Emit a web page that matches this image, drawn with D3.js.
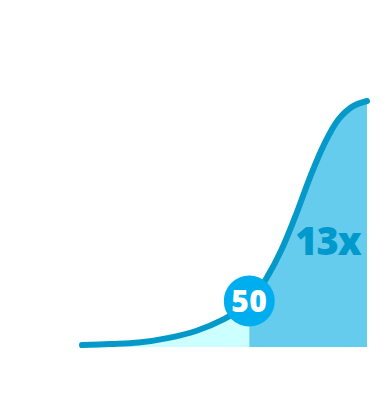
<!DOCTYPE html>
<html><head><meta charset="utf-8">
<script src="https://cdn.jsdelivr.net/npm/d3@7"></script>
<style>html,body{margin:0;padding:0;background:#fff;}svg{display:block;}</style>
</head><body>
<script>
const xValues = [0, 10, 20, 30, 40, 50, 55, 60, 65, 70, 75, 80, 85, 90, 95, 100];
const yValues = [0.8, 1.2, 1.8, 3.6, 6.5, 11.4, 15.0, 20.0, 28.5, 39.5, 53.5, 69.0, 82.5, 92.5, 97.8, 100];
const splitX = 58.7;
const splitLabel = "50";
const multipleLabel = "13x";

const W = 391, H = 400;
const svg = d3.select("body").append("svg").attr("width", W).attr("height", H);
const x = d3.scaleLinear().domain([0, 100]).range([82, 367]);
const y = d3.scaleLinear().domain([0, 100]).range([347, 101]);

const data = xValues.map((v, i) => ({x: v, y: yValues[i]}));
const curve = d3.curveCatmullRom.alpha(0.5);
const lineGen = d3.line().x(d => x(d.x)).y(d => y(d.y)).curve(curve);
const areaGen = d3.area().x(d => x(d.x)).y0(y(0)).y1(d => y(d.y)).curve(curve);

const defs = svg.append("defs");
defs.append("clipPath").attr("id", "left").append("rect")
  .attr("x", 0).attr("y", 0).attr("width", x(splitX)).attr("height", H);
defs.append("clipPath").attr("id", "right").append("rect")
  .attr("x", x(splitX)).attr("y", 0).attr("width", x(100) + 2 - x(splitX)).attr("height", H);

svg.append("path").datum(data).attr("d", areaGen).attr("fill", "#CCFFFF").attr("clip-path", "url(#left)");
svg.append("path").datum(data).attr("d", areaGen).attr("fill", "#66CCEE").attr("clip-path", "url(#right)");

svg.append("path").datum(data).attr("d", lineGen)
  .attr("fill", "none").attr("stroke", "#0599C9").attr("stroke-width", 6)
  .attr("stroke-linecap", "round").attr("stroke-linejoin", "round");

const cx = x(splitX);
svg.append("circle").attr("cx", cx).attr("cy", 301).attr("r", 25.5).attr("fill", "#00AEEF");
svg.append("text").attr("x", cx).attr("y", 301).attr("dy", "0.36em")
  .attr("text-anchor", "middle").attr("fill", "#fff")
  .attr("font-family", "'Open Sans', sans-serif").attr("font-weight", 800)
  .attr("font-size", 30).attr("letter-spacing", 0.5).text(splitLabel);

svg.append("text").attr("x", 328).attr("y", 255)
  .attr("text-anchor", "middle").attr("fill", "#0099CC")
  .attr("font-family", "'Open Sans', sans-serif").attr("font-weight", 800)
  .attr("font-size", 38).attr("letter-spacing", -1).text(multipleLabel);
</script>
</body></html>
